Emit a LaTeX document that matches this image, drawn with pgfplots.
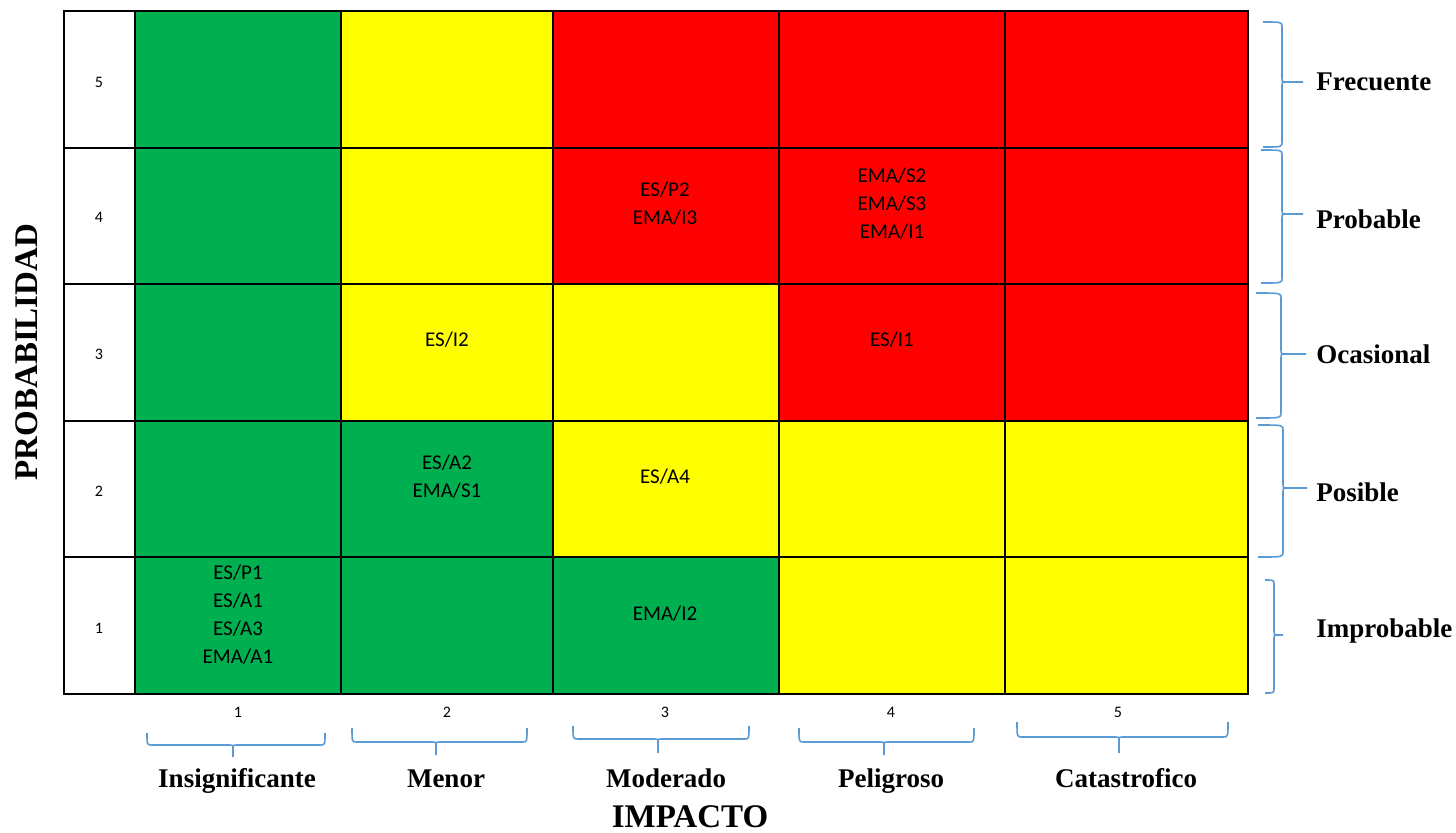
\documentclass[border=0pt]{standalone}
\usepackage{pgfplots}
\pgfplotsset{compat=1.18}
\usepackage{fontspec}
\setmainfont{Carlito}
\newfontfamily\tnr{Liberation Serif}
\definecolor{cgreen}{HTML}{00B050}
\definecolor{cyellow}{HTML}{FFFF00}
\definecolor{cred}{HTML}{FF0000}
\definecolor{cbrace}{HTML}{5B9BD5}
\newcommand{\cell}[5]{\addplot[fill=#5, draw=black, line width=1pt, mark=none] coordinates {(#1,#3) (#2,#3) (#2,#4) (#1,#4)} -- cycle;}
\newcommand{\lab}{\tnr\bfseries\fontsize{13.5}{16}\selectfont}
% right-pointing brace: end x, spine x, tip x, top y, tip y, bottom y
\newcommand{\rbr}[6]{\draw[cbrace, line width=0.8pt]
  (axis cs:#1,#4) .. controls (axis cs:#2,#4) .. (axis cs:#2,#4+5)
  -- (axis cs:#2,#5-4) .. controls (axis cs:#2,#5) .. (axis cs:#2+6,#5)
  -- (axis cs:#3,#5) -- (axis cs:#2+6,#5) .. controls (axis cs:#2,#5) .. (axis cs:#2,#5+4)
  -- (axis cs:#2,#6-5) .. controls (axis cs:#2,#6) .. (axis cs:#1,#6);}
% downward brace: left x, mid x, right x, end y, line y, tip y
\newcommand{\bbr}[6]{\draw[cbrace, line width=0.8pt]
  (axis cs:#1,#4) .. controls (axis cs:#1,#5) .. (axis cs:#1+5,#5)
  -- (axis cs:#2-4,#5) .. controls (axis cs:#2,#5) .. (axis cs:#2,#5+4)
  -- (axis cs:#2,#6) -- (axis cs:#2,#5+4) .. controls (axis cs:#2,#5) .. (axis cs:#2+4,#5)
  -- (axis cs:#3-5,#5) .. controls (axis cs:#3,#5) .. (axis cs:#3,#4);}
\begin{document}
\begin{tikzpicture}
\begin{axis}[scale only axis, width=728pt, height=416pt,
  xmin=0, xmax=1456, ymin=0, ymax=832, y dir=reverse,
  hide axis, clip=false]
\path (axis cs:0,0) rectangle (axis cs:1456,832);
% label column
\cell{64}{135}{11}{148}{white}
\cell{64}{135}{148}{284}{white}
\cell{64}{135}{284}{421}{white}
\cell{64}{135}{421}{557}{white}
\cell{64}{135}{557}{694}{white}
% row 5
\cell{135}{341}{11}{148}{cgreen}
\cell{341}{553}{11}{148}{cyellow}
\cell{553}{779}{11}{148}{cred}
\cell{779}{1005}{11}{148}{cred}
\cell{1005}{1248}{11}{148}{cred}
% row 4
\cell{135}{341}{148}{284}{cgreen}
\cell{341}{553}{148}{284}{cyellow}
\cell{553}{779}{148}{284}{cred}
\cell{779}{1005}{148}{284}{cred}
\cell{1005}{1248}{148}{284}{cred}
% row 3
\cell{135}{341}{284}{421}{cgreen}
\cell{341}{553}{284}{421}{cyellow}
\cell{553}{779}{284}{421}{cyellow}
\cell{779}{1005}{284}{421}{cred}
\cell{1005}{1248}{284}{421}{cred}
% row 2
\cell{135}{341}{421}{557}{cgreen}
\cell{341}{553}{421}{557}{cgreen}
\cell{553}{779}{421}{557}{cyellow}
\cell{779}{1005}{421}{557}{cyellow}
\cell{1005}{1248}{421}{557}{cyellow}
% row 1
\cell{135}{341}{557}{694}{cgreen}
\cell{341}{553}{557}{694}{cgreen}
\cell{553}{779}{557}{694}{cgreen}
\cell{779}{1005}{557}{694}{cyellow}
\cell{1005}{1248}{557}{694}{cyellow}
% row numbers
\foreach \yy/\t in {82/5,217/4,354/3,491/2,628/1}{
  \edef\tmp{\noexpand\node[font=\noexpand\fontsize{8}{10}\noexpand\selectfont] at (axis cs:99,\yy) {\t};}\tmp}
% column numbers
\foreach \xx/\t in {238/1,447/2,665/3,891/4,1118/5}{
  \edef\tmp{\noexpand\node[font=\noexpand\fontsize{8}{10}\noexpand\selectfont] at (axis cs:\xx,712) {\t};}\tmp}
% cell texts
\tikzset{ct/.style={font=\fontsize{10.5}{14}\selectfont, align=center, inner sep=0pt}}
\node[ct] at (axis cs:665,204) {ES/P2\\EMA/I3};
\node[ct] at (axis cs:892,204) {EMA/S2\\EMA/S3\\EMA/I1};
\node[ct] at (axis cs:447,340) {ES/I2};
\node[ct] at (axis cs:892,340) {ES/I1};
\node[ct] at (axis cs:447,477) {ES/A2\\EMA/S1};
\node[ct] at (axis cs:665,477) {ES/A4};
\node[ct] at (axis cs:238,615) {ES/P1\\ES/A1\\ES/A3\\EMA/A1};
\node[ct] at (axis cs:665,614) {EMA/I2};
% right braces
\rbr{1263}{1282}{1303}{22}{82}{147}
\rbr{1261}{1282}{1303}{150}{214}{283}
\rbr{1256}{1281}{1306}{293}{354}{418}
\rbr{1258}{1283}{1307}{425}{488}{557}
\rbr{1265}{1274}{1283}{580}{635}{693}
% bottom braces
\bbr{147}{233}{325}{733}{745}{757}
\bbr{352}{436}{527}{728}{742}{755}
\bbr{573}{658}{749}{726}{739}{753}
\bbr{799}{884}{974}{728}{742}{755}
\bbr{1017}{1119}{1228}{722}{737}{753}
% right labels
\tikzset{rl/.style={anchor=base west, inner sep=0pt, font=\lab}}
\node[rl] at (axis cs:1316,90) {Frecuente};
\node[rl] at (axis cs:1316,228) {Probable};
\node[rl] at (axis cs:1316,363) {Ocasional};
\node[rl] at (axis cs:1316,501) {Posible};
\node[rl] at (axis cs:1316,637) {Improbable};
% bottom labels
\tikzset{bl/.style={anchor=base, inner sep=0pt, font=\lab}}
\node[bl] at (axis cs:237,787) {Insignificante};
\node[bl] at (axis cs:446,787) {Menor};
\node[bl] at (axis cs:666,787) {Moderado};
\node[bl] at (axis cs:891,787) {Peligroso};
\node[bl] at (axis cs:1126,787) {Catastrofico};
% axis titles
\node[anchor=base, inner sep=0pt, font=\tnr\bfseries\fontsize{16.5}{20}\selectfont] at (axis cs:690,827) {IMPACTO};
\node[rotate=90, anchor=base, inner sep=0pt, font=\tnr\bfseries\fontsize{16.5}{20}\selectfont] at (axis cs:38,352) {PROBABILIDAD};
\end{axis}
\end{tikzpicture}
\end{document}
